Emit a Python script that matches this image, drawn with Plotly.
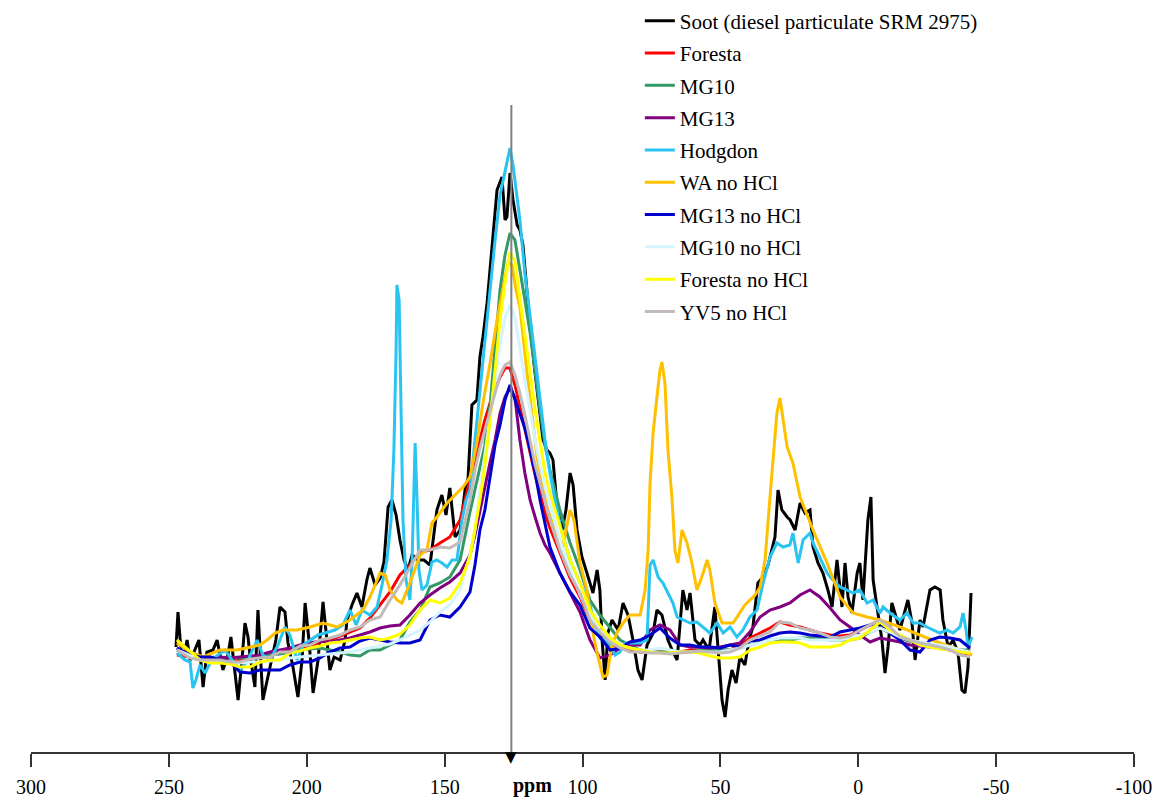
import plotly.graph_objects as go

# ---------------- data (ppm axis, intensity in arbitrary units) ----------------
PEAK_PPM = 125.8

ppm_grid = [247.1, 242.3, 238.7, 235.1, 231.5, 227.8, 224.2, 220.6, 217.0, 213.3,
            209.7, 206.1, 202.4, 198.8, 195.2, 191.6, 187.9, 184.3, 180.7, 177.1,
            173.4, 169.8, 166.2, 162.6, 158.9, 155.3, 151.7, 148.1, 144.4, 140.8,
            139.0, 137.2, 135.4, 133.5, 131.7, 129.9, 128.1, 126.3, 124.5, 122.7,
            120.9, 119.0, 117.2, 115.4, 113.6, 111.8, 108.2, 104.5, 100.9, 97.3,
            93.7, 90.0, 86.4, 82.8, 79.1, 75.5, 71.9, 68.3, 64.6, 61.0,
            57.4, 53.8, 50.1, 46.5, 42.9, 39.3, 35.6, 32.0, 28.4, 24.8,
            21.1, 17.5, 13.9, 10.2, 6.6, 3.0, -0.6, -4.3, -7.9, -11.5,
            -15.1, -18.8, -22.4, -26.0, -29.6, -33.3, -36.9, -40.5]

soot_ppm = [247.4, 246.7, 245.6, 244.5, 243.4, 242.3, 240.9, 239.1, 237.6, 236.2,
            234.0, 232.5, 230.4, 228.6, 227.5, 226.0, 224.9, 223.5, 222.4, 221.3,
            220.6, 218.8, 217.7, 215.9, 213.3, 211.2, 209.7, 207.9, 206.8, 205.0,
            203.2, 201.7, 200.6, 199.2, 197.7, 195.9, 194.1, 192.7, 191.6, 190.1,
            187.9, 186.1, 185.4, 183.6, 181.8, 180.0, 178.2, 177.1, 175.2, 173.4,
            172.0, 170.5, 169.1, 167.6, 166.2, 164.7, 163.3, 161.8, 159.7, 157.5,
            155.3, 152.8, 151.0, 149.5, 148.1, 146.2, 144.4, 142.6, 141.5, 140.1,
            138.3, 137.2, 136.1, 134.6, 133.5, 132.1, 131.0, 129.2, 128.1, 127.4,
            126.3, 125.2, 123.7, 122.7, 121.6, 120.1, 119.0, 117.2, 115.4, 114.3,
            112.9, 111.8, 110.7, 109.2, 107.4, 106.0, 104.5, 103.4, 102.0, 100.2,
            98.4, 96.2, 94.7, 93.7, 92.9, 91.8, 90.8, 89.3, 87.1, 85.3,
            83.5, 81.7, 79.9, 78.4, 76.6, 74.4, 73.0, 71.2, 69.0, 67.5,
            65.7, 63.6, 62.1, 61.0, 59.2, 57.4, 56.3, 54.1, 52.0, 50.9,
            49.4, 48.3, 47.2, 45.8, 44.3, 42.9, 41.1, 39.6, 38.2, 36.4,
            34.5, 32.7, 31.3, 30.2, 29.1, 27.7, 25.8, 24.7, 22.9, 21.1,
            19.3, 17.5, 16.4, 14.6, 12.8, 11.0, 9.5, 7.7, 5.9, 4.8,
            3.7, 2.3, 0.4, -0.6, -1.7, -3.5, -4.6, -5.4, -6.8, -8.6,
            -9.7, -10.8, -12.2, -13.3, -15.1, -18.0, -19.5, -20.6, -22.4, -23.5,
            -26.0, -27.8, -29.7, -30.7, -32.6, -34.4, -36.2, -37.6, -38.7, -39.8,
            -40.9]
soot_int = [0.6, 7.6, 0, -1.4, 2, -2, -0.4, 2, -7.4, -0.4,
            0, 2, -4, -1, 2.6, -4.6, -10, -2, 5.4, 2.6,
            -1, -7.4, 8, -10, -3.6, 2, 8.6, 7.6, 1.4, -3.4,
            -9.4, -2, 9.4, 2, -8.6, -2, 9.6, 2, -4, -1.4,
            -2, 2, 6, 9, 11.4, 8.6, 14, 16.4, 13, 14.4,
            17.6, 28.6, 30, 27, 22, 18, 16, 19, 18, 18,
            17, 28, 31, 27, 32.4, 22.6, 24, 32, 34.4, 49,
            50, 58.6, 62.6, 69.4, 76.6, 86, 92, 94.6, 86, 86.6,
            95.4, 90, 85, 84, 81, 71.4, 64.6, 55.4, 47.4, 42,
            40, 39.4, 38, 28.6, 24, 28, 35.4, 33, 24, 18.6,
            15.4, 11.4, 16, 12, 2, -6, 3.4, 6, 4, 9.4,
            7, 2, -4, -6, 1, 3.4, 8, 7, 2, 0,
            -2, 12, 8, 11.4, 2, 1, 2, 0, 8.6, 0,
            -10, -13.4, -8, -4, -6.6, -1.4, -3, 2, 4.6, 13.4,
            14.6, 17, 20, 22.6, 32, 28, 26.6, 26, 24, 29.4,
            27.4, 28, 20.6, 17.4, 15.4, 12, 8.6, 18, 8.6, 17.4,
            10.6, 7.4, 15.4, 17.4, 10, 26, 30.6, 14, 8.6, 2,
            -4.6, 0.6, 9.4, 7.4, 4, 10, 5.4, -2, 6, 4.6,
            12, 12.6, 12, 6, 0.6, 2, -0.6, -8, -8.6, -3.4,
            11.4]

foresta_int = [-1, -1.4, -2, -2, -2.2, -2.4, -2, -1.6, -1.4, -1,
               -0.4, 0, 0.6, 0.8, 1.6, 2, 2.8, 3.6, 4.4, 6.4,
               9, 11.6, 15, 17, 19.6, 20, 21.4, 22.6, 26, 34,
               38.4, 42.6, 46, 49.4, 52, 54.6, 56.4, 56.4, 53, 48.6,
               43.6, 39, 35, 31.4, 27.4, 24.4, 19.4, 14.4, 10.6, 6,
               3.4, 1.4, 0.4, 0, -0.4, -0.4, -0.4, -0.4, -0.4, 0,
               0, 0, 0, 0, 1, 2.4, 3.4, 4.4, 5.6, 5,
               4.6, 4, 3.4, 3, 2.8, 3, 4, 5, 6, 4,
               2.4, 1.8, 1.4, 1, 0.8, 0, -0.6, -1]

mg10_int = [0.4, -1, -1.4, -1.4, -1.6, -1.6, -1.6, -1.4, -1.2, -1,
            -0.8, -0.4, 0, 0.2, 0.4, 0, -0.4, -1, -1.2, 0,
            0, 1, 2, 5.6, 8, 12.6, 13.4, 14.6, 18, 27.6,
            32, 36, 41, 49, 60, 72, 79, 83.4, 82, 76.4,
            70, 63.4, 55.4, 48, 41, 36, 28, 21.4, 16, 10,
            7, 4.4, 2, 1, 0, -0.4, -0.4, -0.4, -0.4, -0.4,
            0, 0, 0, 0, 0.4, 1, 1.6, 2, 2, 2,
            2.4, 2.4, 2.4, 2, 2, 2, 2.4, 3.6, 4.4, 3.4,
            2.4, 1.8, 1.4, 1, 0.8, 0.4, 0, 0]

mg13_int = [0, -1, -1.4, -1.6, -1.4, -1.6, -1.4, -1.2, -1, -0.4,
            0, 0.4, 1, 1.4, 1.8, 1.6, 2, 2.4, 3, 3.6,
            4.4, 4.8, 5, 7, 9.4, 11, 12.4, 13.6, 15.4, 19,
            23, 28, 33, 37.6, 42, 47.4, 50.6, 52.4, 50.4, 42,
            35.4, 30, 26.6, 23.4, 21, 19.4, 15.4, 11.4, 7.6, 2,
            -1.6, -1, 0.4, 1, 1, 4, 5, 4, 1, 0.6,
            0.6, 0.4, 0.6, 1, 1.4, 3.6, 6.6, 8, 8.6, 9.4,
            11, 12, 10.6, 8.4, 6, 4.6, 3, 1.6, 2.4, 2,
            1.6, 1, 0.8, 0.6, 0.4, 0, -0.4, -0.4]

hodgdon_ppm = [247.1, 244.2, 242.3, 241.3, 240.2, 238.7, 236.9, 234.4, 232.2, 229.6,
               227.1, 224.2, 221.3, 218.0, 215.9, 213.3, 210.4, 207.9, 206.1, 203.5,
               201.4, 198.8, 195.9, 193.4, 189.8, 186.9, 184.3, 182.1, 180.0, 177.1,
               174.5, 172.7, 170.9, 169.4, 168.4, 167.6, 167.3, 166.5, 165.8, 165.1,
               164.0, 162.6, 161.8, 161.1, 160.7, 160.0, 159.3, 158.2, 156.4, 154.6,
               152.8, 151.0, 149.1, 147.3, 145.5, 143.7, 142.2, 140.8, 139.0, 137.2,
               135.4, 133.5, 131.7, 129.9, 128.1, 126.3, 125.2, 123.7, 122.7, 120.9,
               119.0, 117.2, 115.4, 113.6, 111.8, 110.0, 107.4, 104.5, 100.9, 97.3,
               95.5, 93.7, 91.8, 90.0, 88.2, 86.4, 84.6, 82.0, 79.1, 76.6,
               75.5, 74.4, 72.6, 70.8, 69.0, 67.2, 65.7, 63.6, 61.0, 58.5,
               56.3, 53.8, 51.2, 49.0, 46.5, 44.0, 41.8, 39.3, 36.7, 34.5,
               32.0, 29.5, 27.3, 24.8, 23.7, 21.8, 20.0, 17.5, 16.4, 13.9,
               11.3, 9.2, 6.6, 4.1, 1.9, -0.6, -3.2, -5.4, -7.9, -9.0,
               -11.5, -15.1, -17.7, -19.9, -22.4, -24.9, -27.1, -29.6, -32.2, -34.4,
               -36.9, -38.0, -39.1, -39.8, -41.3]
hodgdon_int = [-0.6, -2, -2.4, -7.6, -6, -3, -4.6, -2, -1, 0,
               -2, -4, -2, 2, -1, -2, 1, 4.6, 3, -2,
               1, 2, 3, 3.4, 4, 5, 8, 5, 8, 7,
               8.6, 13, 18, 26, 40, 60, 73, 70, 46, 26,
               14, 10, 18, 36, 41.4, 30, 16, 12, 13, 17.6,
               18, 17.4, 16.6, 18, 18, 26, 30, 32, 42, 50.6,
               62, 72, 82, 91, 96, 100.4, 97, 90, 86, 75.4,
               66.6, 58.6, 50, 42, 35.4, 30, 23.4, 18, 13.4, 9,
               5, 2.4, 2, 1, -1, -0.4, 1.4, 1.4, 1.4, 2,
               17, 18, 14.6, 13.4, 11.4, 9.4, 6.6, 6, 5.4, 5.6,
               4.6, 3.4, 5.4, 3.4, 4.6, 2.6, 4, 6.6, 8, 13.4,
               18.6, 21.4, 20.6, 21, 23.4, 17.4, 22, 23.4, 21.4, 18.6,
               15.4, 14, 12.6, 12, 11.4, 12, 9.4, 10, 7.4, 8.6,
               7.4, 6, 7.4, 5.4, 5.4, 4.6, 4, 3.4, 4, 3.4,
               4.6, 7.4, 4, 0.6, 2.6]

wa_ppm = [247.1, 242.3, 237.6, 231.5, 225.3, 220.6, 217.0, 214.4, 211.5, 208.6,
          203.5, 198.8, 194.1, 189.0, 184.3, 179.6, 177.1, 175.2, 173.4, 171.6,
          169.8, 167.3, 165.5, 162.6, 158.9, 156.4, 154.6, 152.8, 149.1, 145.5,
          143.3, 140.8, 138.3, 136.1, 133.5, 131.0, 128.8, 127.0, 125.6, 124.1,
          122.7, 120.1, 116.5, 112.9, 109.2, 107.1, 106.0, 104.5, 103.1, 100.9,
          98.4, 96.2, 94.7, 92.6, 91.1, 89.3, 87.5, 85.3, 82.8, 79.1,
          77.3, 76.2, 75.5, 74.4, 73.0, 71.9, 71.2, 70.1, 69.0, 67.5,
          66.5, 65.4, 63.9, 62.1, 60.3, 58.5, 56.7, 54.8, 53.8, 52.0,
          49.4, 45.4, 41.1, 37.4, 35.6, 33.8, 32.0, 30.9, 29.5, 28.4,
          27.3, 25.8, 23.7, 21.1, 16.4, 11.3, 6.6, 1.9, -3.2, -7.9,
          -15.1, -22.4, -29.6, -36.9, -41.3]
wa_int = [1.4, -0.4, -1.4, 0, 0, 0.6, 1, 2, 3.4, 4,
          4, 4.6, 5.4, 4.6, 6, 8, 10.6, 13, 15.4, 15,
          12, 10, 9.4, 13.4, 19, 20, 25.4, 26.6, 29.4, 31.4,
          32.6, 34.6, 41.4, 49.4, 57.4, 66, 72.6, 77.6, 77, 72,
          68.6, 55.4, 38.6, 28.6, 22.6, 20.6, 24, 28, 26, 17.4,
          12, 3.4, -0.6, -5.4, -5, 1, 3.4, 5.4, 7, 7,
          12, 20, 33.4, 43.4, 50.6, 56, 57.6, 53.4, 40, 30,
          20, 17.4, 24, 21.4, 17.4, 12, 14.6, 18, 16, 9.4,
          5.4, 5.4, 9, 11, 12.6, 18, 30.6, 37.4, 47.4, 50.4,
          46, 40.6, 37.4, 30.6, 24, 17.4, 10.6, 7.4, 6.6, 6,
          4.6, 3, 1.4, 0, -1]

mg13_nohcl_int = [0.4, -1, -1.4, -1.4, -2, -2.4, -4.4, -4.6, -4, -4,
                  -4, -3, -2.4, -2.4, -1.6, -0.4, 0.4, 0.6, 1.8, 2.4,
                  2, 1.6, 1.4, 1.4, 2, 6, 7, 6.6, 8.6, 11.6,
                  17, 24, 28, 35, 41, 45, 50, 53, 50, 47.4,
                  44.4, 40, 35.4, 30, 25, 20.6, 15.4, 11.6, 9, 4.4,
                  2.6, 0, 0.4, 1.6, 2, 3, 4.4, 2.4, 1, 1,
                  0.6, 0.6, 0.4, 1, 0.6, 1.8, 2, 2.8, 3.4, 3.6,
                  3.4, 3, 2.8, 2.6, 3.6, 4, 4.4, 5, 5.4, 3.4,
                  2, 0, -0.4, 2, 2.6, 2.4, 2, 0.4]

mg10_nohcl_int = [0, -1.2, -2, -2.4, -2.4, -2.4, -2.6, -2.4, -2.4, -2.2,
                  -2, -1.6, -1.4, -1.2, -1, -0.8, -0.6, -0.4, 0, 0.4,
                  0.8, 1.2, 2, 3, 4, 5.6, 7.6, 9, 12, 19,
                  24, 32, 39, 47, 54, 61, 66.4, 69, 66.4, 60,
                  54, 48, 42, 37, 32.6, 29, 22, 16, 11, 7,
                  4, 2, 1, 0.4, 0, 0, 0.4, 0, -0.4, -0.4,
                  -0.4, -0.4, -0.4, 0, 0.4, 1, 1.4, 2, 2.4, 2.4,
                  2.4, 2, 2, 2, 2, 2.4, 3, 3.6, 4.4, 3.6,
                  2.6, 2, 1.6, 1.2, 1, 0.6, 0, -0.4]

foresta_nohcl_int = [2, -0.4, -2, -2.6, -2.6, -2.8, -3.4, -3.4, -2.4, -2,
                     -2, -0.6, -0.2, 0.4, 0.8, 1.4, 1.6, 2, 2.4, 2.6,
                     2, 2.4, 3.2, 5, 8, 10, 9.4, 10.4, 13.4, 18.6,
                     24, 30, 37, 46, 56, 66, 73.4, 79.6, 77.6, 70.6,
                     62.6, 55.4, 48, 41.4, 35.4, 31.4, 24.6, 18, 13.4, 8,
                     5, 2.4, 1, 0.4, 0, -0.4, -0.6, -0.6, -0.4, -0.4,
                     -0.6, -1.2, -1.6, -1.6, -1.4, 0, 0.6, 1.4, 1.6, 1.6,
                     1.4, 0.6, 0.6, 0.6, 1, 2, 2.4, 4, 5.6, 4,
                     3, 2, 1, 0.6, 0.2, 0, -0.4, -0.6]

yv5_nohcl_int = [0, -1.6, -2, -2, -2, -2.4, -2.4, -1.8, -1.6, -1.4,
                 -0.4, -0.4, 0.8, 1, 2, 2.4, 3, 4, 4.6, 6,
                 6.6, 10, 13, 16.6, 20, 20, 20.6, 20.4, 21.6, 30,
                 36, 40.4, 44, 48, 51.4, 55, 57, 57.6, 55, 51.4,
                 47, 42, 37, 33.4, 29.4, 26, 20, 15, 11.4, 6,
                 3.6, 1.6, 0.4, -0.4, -0.4, -0.6, -0.6, -0.8, -0.6, -0.4,
                 -0.2, -0.4, -0.6, -0.4, 0.4, 2, 2.8, 3.6, 5.6, 5.4,
                 4.4, 4, 3.4, 2.6, 2.4, 2.8, 4, 5, 6, 4.6,
                 2.6, 2, 1.4, 1, 0.6, 0, -1, -1.4]

series_names = ["Soot (diesel particulate SRM 2975)", "Foresta", "MG10", "MG13", "Hodgdon",
                "WA no HCl", "MG13 no HCl", "MG10 no HCl", "Foresta no HCl", "YV5 no HCl"]
series_colors = ["#000000", "#FF0000", "#339966", "#800080", "#29C4F2",
                 "#FFC000", "#0000CC", "#D4F4FF", "#FFFF00", "#C3BABA"]

x_ticks = [300, 250, 200, 150, 100, 50, 0, -50, -100]
x_tick_text = ["300", "250", "200", "150", "100", "50", "0", "-50", "-100"]

series_x = [soot_ppm, ppm_grid, ppm_grid, ppm_grid, hodgdon_ppm,
            wa_ppm, ppm_grid, ppm_grid, ppm_grid, ppm_grid]
series_y = [soot_int, foresta_int, mg10_int, mg13_int, hodgdon_int,
            wa_int, mg13_nohcl_int, mg10_nohcl_int, foresta_nohcl_int, yv5_nohcl_int]

Y_MIN, Y_MAX = -20.4, 109.6
ARROW_TOP = 109.0

# ---------------- figure ----------------
fig = go.Figure()
for i, (name, col, xs, ys) in enumerate(zip(series_names, series_colors, series_x, series_y)):
    assert len(xs) == len(ys), name
    fig.add_trace(go.Scatter(
        x=xs, y=ys, mode="lines", name=name, legendgroup=f"g{i}",
        line=dict(color=col, width=3),
    ))

# vertical reference line at the main aromatic peak, with a black arrowhead on the axis
fig.add_shape(type="line", xref="x", yref="y", x0=PEAK_PPM, x1=PEAK_PPM,
              y0=Y_MIN, y1=ARROW_TOP, line=dict(color="#808080", width=2), layer="above")
fig.add_annotation(x=PEAK_PPM, xref="x", y=0, yref="paper", text="▼",
                   showarrow=False, yanchor="middle", xanchor="center", yshift=-5,
                   font=dict(family="DejaVu Sans", size=15, color="#000000"))

fig.add_annotation(x=118, xref="x", y=-0.051, yref="paper", text="<b>ppm</b>",
                   showarrow=False, yanchor="middle", xanchor="center",
                   font=dict(family="Liberation Serif", size=20, color="#000000"))

fig.update_layout(
    template="none",
    width=1158, height=802,
    margin=dict(l=31, r=24, t=102, b=50, autoexpand=False),
    paper_bgcolor="white", plot_bgcolor="white",
    showlegend=True,
    legend=dict(x=0.552, y=1.156, xanchor="left", yanchor="top",
                font=dict(family="Liberation Serif", size=21, color="#000000"),
                bgcolor="rgba(0,0,0,0)", borderwidth=0,
                traceorder="grouped", tracegroupgap=2),
    xaxis=dict(range=[300, -100], tickvals=x_ticks, ticktext=x_tick_text,
               ticks="outside", ticklen=13, tickwidth=1.5, tickcolor="#333333",
               showline=True, linecolor="#333333", linewidth=2,
               showgrid=False, zeroline=False, automargin=False,
               ticklabelstandoff=3,
               tickfont=dict(family="Liberation Serif", size=20, color="#000000")),
    yaxis=dict(range=[Y_MIN, Y_MAX], visible=False, showgrid=False, zeroline=False,
               automargin=False),
)

fig.write_html("out.html")
